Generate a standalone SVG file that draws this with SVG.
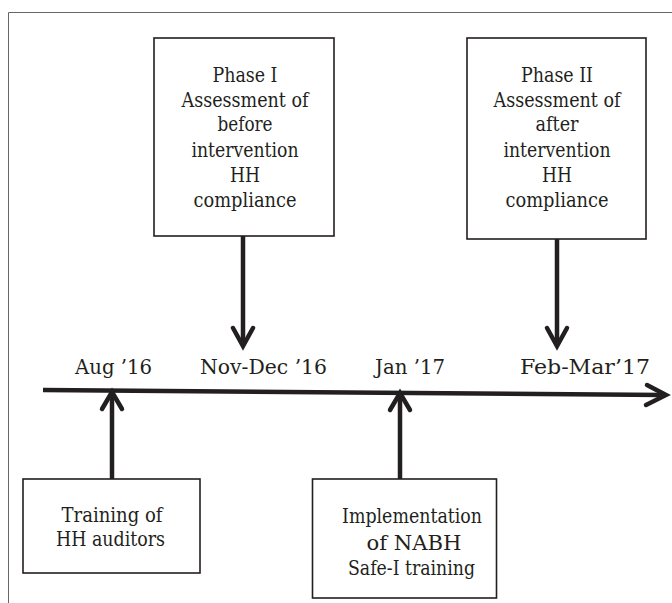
<svg xmlns="http://www.w3.org/2000/svg" width="672" height="603" viewBox="0 0 672 603">
<defs>
<style>
.box{fill:#fff;stroke:#231f20;stroke-width:1.6}
.t{font-family:'DejaVu Serif Condensed','DejaVu Serif',serif;font-size:19.5px;fill:#231f20;text-anchor:middle}
.c{stroke:#231f20;stroke-width:4.5;fill:none}
.h{stroke:#231f20;stroke-width:4.5;fill:none;stroke-linejoin:miter;stroke-linecap:round}
.frame{stroke:#666;stroke-width:1;fill:none}
</style>
</defs>
<rect width="672" height="603" fill="#fff"/>
<path class="frame" d="M8.5,603 V12.5 H672"/>
<g id="connectors">
<path class="c" d="M43,390 L664,395"/>
<path class="h" d="M647,385 L666,395 L646,405"/>
<path class="c" d="M243,236 V344"/>
<path class="h" d="M233,328 L243,346 L253,328"/>
<path class="c" d="M557,239 V344"/>
<path class="h" d="M547,328 L557,346 L567,328"/>
<path class="c" d="M112,479 V394"/>
<path class="h" d="M102,409 L112,392 L122,409"/>
<path class="c" d="M400,479 V395"/>
<path class="h" d="M390,410 L400,393 L410,410"/>
</g>
<g id="phase1">
<rect class="box" x="154" y="38" width="180" height="198"/>
<text class="t" x="245" y="82" textLength="65" lengthAdjust="spacingAndGlyphs">Phase I</text>
<text class="t" x="245" y="107" textLength="127" lengthAdjust="spacingAndGlyphs">Assessment of</text>
<text class="t" x="245" y="131" textLength="55" lengthAdjust="spacingAndGlyphs">before</text>
<text class="t" x="245" y="157" textLength="107" lengthAdjust="spacingAndGlyphs">intervention</text>
<text class="t" x="245" y="182" textLength="30" lengthAdjust="spacingAndGlyphs">HH</text>
<text class="t" x="245" y="207" textLength="103" lengthAdjust="spacingAndGlyphs">compliance</text>
</g>
<g id="phase2">
<rect class="box" x="467" y="38" width="179" height="201"/>
<text class="t" x="557" y="82" textLength="72" lengthAdjust="spacingAndGlyphs">Phase II</text>
<text class="t" x="557" y="107" textLength="127" lengthAdjust="spacingAndGlyphs">Assessment of</text>
<text class="t" x="557" y="131" textLength="43" lengthAdjust="spacingAndGlyphs">after</text>
<text class="t" x="557" y="157" textLength="107" lengthAdjust="spacingAndGlyphs">intervention</text>
<text class="t" x="557" y="182" textLength="30" lengthAdjust="spacingAndGlyphs">HH</text>
<text class="t" x="557" y="207" textLength="103" lengthAdjust="spacingAndGlyphs">compliance</text>
</g>
<g id="labels">
<text class="t" x="113.5" y="374" textLength="77" lengthAdjust="spacingAndGlyphs">Aug ’16</text>
<text class="t" x="263.5" y="374" textLength="127" lengthAdjust="spacingAndGlyphs">Nov-Dec ’16</text>
<text class="t" x="410" y="374" textLength="70" lengthAdjust="spacingAndGlyphs">Jan ’17</text>
<text class="t" x="585" y="374" textLength="130" lengthAdjust="spacingAndGlyphs">Feb-Mar’17</text>
</g>
<g id="training">
<rect class="box" x="23" y="479" width="177" height="94"/>
<text class="t" x="112" y="522" textLength="101" lengthAdjust="spacingAndGlyphs">Training of</text>
<text class="t" x="110.5" y="546" textLength="109" lengthAdjust="spacingAndGlyphs">HH auditors</text>
</g>
<g id="implementation">
<rect class="box" x="312.5" y="479" width="184" height="119"/>
<text class="t" x="412" y="523" textLength="140" lengthAdjust="spacingAndGlyphs">Implementation</text>
<text class="t" x="414" y="550" textLength="95" lengthAdjust="spacingAndGlyphs">of NABH</text>
<text class="t" x="411.5" y="575" textLength="127" lengthAdjust="spacingAndGlyphs">Safe-I training</text>
</g>
</svg>
